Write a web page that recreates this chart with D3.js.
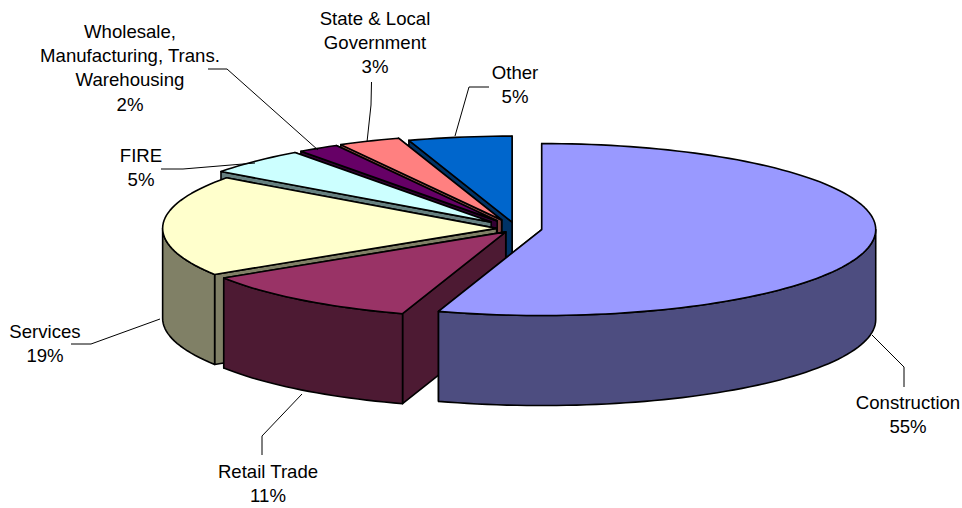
<!DOCTYPE html>
<html>
<head>
<meta charset="utf-8">
<script src="https://cdn.jsdelivr.net/npm/d3@7"></script>
<style>
html,body{margin:0;padding:0;background:#fff}
svg{display:block}
text{font-family:"Liberation Sans",Arial,sans-serif;font-size:18.6px;fill:#000;text-anchor:middle}
</style>
</head>
<body>
<svg id="chart" width="962" height="508"></svg>
<script>
// Employment share by sector
const categories = ["Construction","Retail Trade","Services","FIRE","Wholesale, Manufacturing, Trans. Warehousing","State & Local Government","Other"];
const shares = [55,11,19,5,2,3,5];
const topColors = ["#9999FF","#993366","#FFFFCC","#CCFFFF","#660066","#FF8080","#0066CC"];
const wallColors = ["#4D4D80","#4D1A33","#808066","#668080","#330033","#804040","#003366"];
// How far each slice is pulled out of the disc, as a fraction of the radius
const explodeBySlice = [0.078,0.05,0.058,0.105,0.105,0.108,0.075];

// Label text broken into lines, with anchor point and leader path for each sector
const labelLines = [
  ["Construction","55%"],
  ["Retail Trade","11%"],
  ["Services","19%"],
  ["FIRE","5%"],
  ["Wholesale,","Manufacturing, Trans.","Warehousing","2%"],
  ["State & Local","Government","3%"],
  ["Other","5%"]
];
const labelAnchors = [[908,409],[268,478],[45,338],[141,162],[130,38],[375,25],[515,79]];
const labelLineStep = 24.2;
const leaders = [
  [[904,387],[904,367],[872,335]],
  [[262,455],[262,436],[302,394]],
  [[71,344],[91,344],[160,319]],
  [[161,169],[183,169],[255,163]],
  [[208,69],[227,69],[318,150]],
  [[371.5,82],[371,105],[367,142]],
  [[489,87],[469,87],[455,136]]
];

// Tilted-disc projection: unit circle onto the page
const centre = [516, 228.5], radiusX = 334, radiusY = 86, depth = 90;
const x = d3.scaleLinear().domain([-1,1]).range([centre[0]-radiusX, centre[0]+radiusX]);
const y = d3.scaleLinear().domain([-1,1]).range([centre[1]-radiusY, centre[1]+radiusY]);

const slices = d3.pie().value(d => d).sort(null)(shares).map((s,i) => {
  const mid = (s.startAngle + s.endAngle) / 2;
  const e = explodeBySlice[i];
  return {...s, i, ox: Math.sin(mid)*e, oy: -Math.cos(mid)*e};
});

const svg = d3.select("#chart");
const line = d3.line();

function rim(s, a0, a1, dz) {
  const n = Math.max(2, Math.ceil((a1-a0)/0.03));
  return d3.range(n+1).map(k => {
    const a = a0 + (a1-a0)*k/n;
    return [x(Math.sin(a)+s.ox), y(-Math.cos(a)+s.oy)+dz];
  });
}
const apex = (s, dz) => [x(s.ox), y(s.oy)+dz];
const corner = (s, a, dz) => [x(Math.sin(a)+s.ox), y(-Math.cos(a)+s.oy)+dz];

// Back slices first so nearer ones paint over them
const paintOrder = [6,5,4,3,2,1,0];

function face(g, pts, fill) {
  g.append("path").attr("d", line(pts)+"Z").attr("fill", fill)
    .attr("stroke", "#000").attr("stroke-width", 1.6)
    .attr("stroke-linejoin", "round");
}

paintOrder.forEach(i => {
  const s = slices[i];
  const g = svg.append("g").attr("class","slice");
  const wall = wallColors[i];
  // cut faces
  [s.endAngle, s.startAngle].forEach(a => {
    face(g, [apex(s,0), corner(s,a,0), corner(s,a,depth), apex(s,depth)], wall);
  });
  // curved outer wall, only the near half of the disc shows
  const a0 = Math.max(s.startAngle, Math.PI/2), a1 = Math.min(s.endAngle, Math.PI*1.5);
  if (a1 > a0) {
    face(g, rim(s,a0,a1,0).concat(rim(s,a0,a1,depth).reverse()), wall);
  }
  // top surface
  face(g, [apex(s,0)].concat(rim(s,s.startAngle,s.endAngle,0)), topColors[i]);
});

// Leader lines
svg.append("g").selectAll("path").data(leaders).join("path")
  .attr("d", d => line(d)).attr("fill","none").attr("stroke","#000").attr("stroke-width",1);

// Sector labels
const labels = svg.append("g").selectAll("text").data(labelLines).join("text")
  .attr("transform", (d,i) => `translate(${labelAnchors[i][0]},${labelAnchors[i][1]})`);
labels.selectAll("tspan").data(d => d).join("tspan")
  .attr("x",0).attr("y",(d,i) => i*labelLineStep).text(d => d);
</script>
</body>
</html>
